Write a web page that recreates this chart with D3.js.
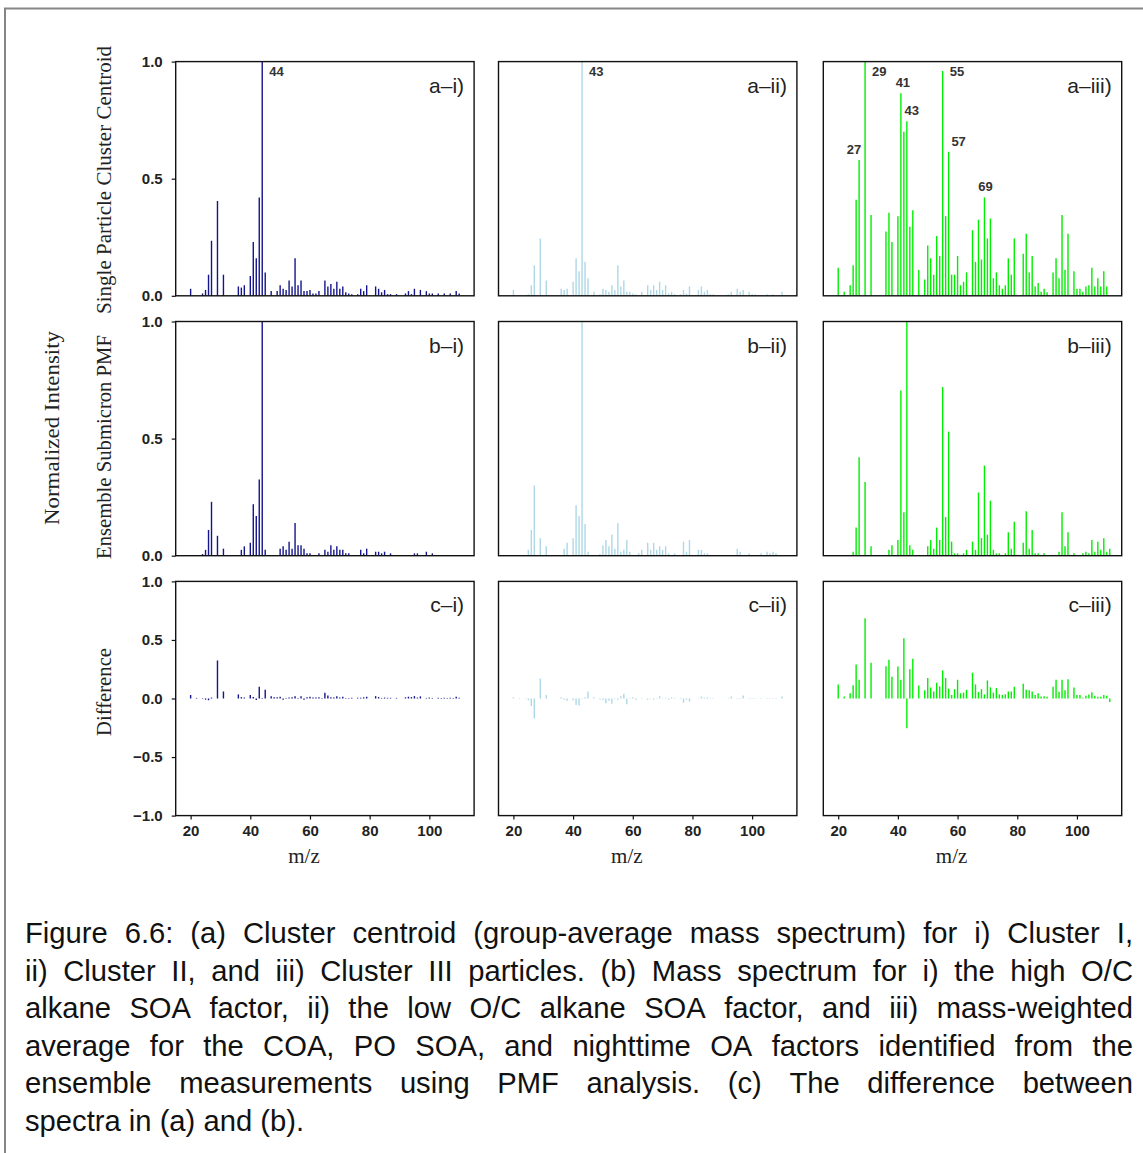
<!DOCTYPE html>
<html><head><meta charset="utf-8">
<script src="https://cdn.jsdelivr.net/npm/d3@7"></script>
<style>body{margin:0;background:#fff}svg{display:block}</style>
</head><body>
<svg id="chart" width="1143" height="1153"></svg>
<script>
// ---------------- data ----------------
const mzTicks = [20, 40, 60, 80, 100];
const intensityTicks = [0, 0.5, 1];
const differenceTicks = [-1, -0.5, 0, 0.5, 1];
const panelLabels = [["a–i)", "a–ii)", "a–iii)"], ["b–i)", "b–ii)", "b–iii)"], ["c–i)", "c–ii)", "c–iii)"]];
const rowTitles = ["Single Particle Cluster Centroid", "Ensemble Submicron PMF", "Difference"];
const sharedTitle = "Normalized Intensity";
const xTitle = "m/z";
const seriesColors = ["#14148c", "#add8e6", "#00ee00"];

// (a) cluster centroids [m/z, intensity]
const centroidClusterI = [[20,0.03],[24,0.01],[25,0.025],[26,0.09],[27,0.235],[29,0.405],[31,0.09],[36,0.04],[37,0.035],[38,0.045],[40,0.085],[41,0.23],[42,0.16],[43,0.42],[44,1.0],[45,0.1],[47,0.02],[49,0.02],[50,0.045],[51,0.03],[52,0.025],[53,0.065],[54,0.04],[55,0.16],[56,0.045],[57,0.065],[58,0.02],[59,0.02],[60,0.025],[61,0.01],[62,0.01],[63,0.02],[65,0.065],[66,0.04],[67,0.05],[68,0.03],[69,0.06],[70,0.03],[71,0.04],[72,0.015],[73,0.01],[74,0.007],[76,0.007],[77,0.03],[78,0.02],[79,0.045],[82,0.04],[83,0.03],[84,0.015],[85,0.025],[86,0.007],[87,0.007],[89,0.007],[92,0.01],[93,0.02],[94,0.007],[95,0.03],[97,0.025],[99,0.02],[100,0.01],[101,0.01],[103,0.01],[105,0.01],[107,0.01],[109,0.02],[110,0.01]];
const centroidClusterII = [[20,0.025],[25,0.007],[26,0.045],[27,0.13],[29,0.245],[31,0.065],[36,0.03],[37,0.025],[38,0.03],[40,0.06],[41,0.16],[42,0.105],[43,1.0],[44,0.145],[45,0.075],[47,0.017],[49,0.007],[50,0.03],[51,0.025],[52,0.017],[53,0.045],[54,0.025],[55,0.13],[56,0.04],[57,0.065],[58,0.017],[59,0.017],[60,0.01],[61,0.007],[63,0.017],[65,0.045],[66,0.025],[67,0.045],[68,0.025],[69,0.06],[70,0.025],[71,0.045],[72,0.01],[73,0.017],[74,0.007],[76,0.007],[77,0.025],[78,0.01],[79,0.04],[82,0.025],[83,0.04],[84,0.017],[85,0.025],[86,0.007],[87,0.007],[92,0.007],[93,0.017],[95,0.03],[96,0.017],[97,0.025],[99,0.017],[100,0.007],[101,0.007],[105,0.007],[107,0.007],[110,0.017]];
const centroidClusterIII = [[20,0.12],[22,0.017],[24,0.045],[25,0.13],[26,0.41],[27,0.58],[29,1.0],[31,0.345],[36,0.275],[37,0.355],[38,0.23],[40,0.34],[41,0.865],[42,0.70],[43,0.745],[44,0.295],[45,0.365],[47,0.11],[49,0.07],[50,0.215],[51,0.16],[52,0.09],[53,0.255],[54,0.17],[55,0.96],[56,0.34],[57,0.615],[58,0.09],[59,0.09],[60,0.17],[61,0.045],[62,0.06],[63,0.1],[65,0.28],[66,0.145],[67,0.325],[68,0.155],[69,0.42],[70,0.245],[71,0.33],[72,0.075],[73,0.1],[74,0.045],[75,0.03],[76,0.045],[77,0.16],[78,0.09],[79,0.245],[82,0.18],[83,0.265],[84,0.1],[85,0.17],[86,0.04],[87,0.055],[88,0.017],[89,0.03],[90,0.015],[92,0.1],[93,0.16],[94,0.075],[95,0.345],[96,0.11],[97,0.265],[99,0.105],[100,0.03],[101,0.03],[102,0.017],[103,0.04],[104,0.045],[105,0.12],[106,0.04],[107,0.075],[108,0.04],[109,0.105],[110,0.04]];

// (b) ensemble PMF spectra
const pmfHighOC = [[24,0.007],[25,0.025],[26,0.11],[27,0.23],[29,0.085],[31,0.03],[37,0.025],[38,0.04],[40,0.055],[41,0.22],[42,0.17],[43,0.325],[44,1.0],[45,0.025],[50,0.03],[51,0.04],[52,0.025],[53,0.06],[54,0.03],[55,0.14],[56,0.045],[57,0.045],[58,0.03],[59,0.01],[60,0.01],[63,0.01],[65,0.025],[66,0.017],[67,0.045],[68,0.025],[69,0.04],[70,0.025],[71,0.025],[72,0.01],[73,0.01],[77,0.025],[78,0.01],[79,0.03],[82,0.017],[83,0.017],[84,0.01],[85,0.017],[87,0.01],[95,0.01],[96,0.01],[99,0.017],[101,0.01]];
const pmfLowOC = [[25,0.025],[26,0.11],[27,0.30],[29,0.075],[31,0.04],[37,0.03],[38,0.055],[40,0.075],[41,0.215],[42,0.17],[43,1.0],[44,0.135],[45,0.017],[49,0.007],[50,0.045],[51,0.067],[52,0.04],[53,0.09],[54,0.03],[55,0.14],[56,0.017],[57,0.025],[58,0.067],[59,0.017],[62,0.01],[63,0.025],[65,0.055],[66,0.025],[67,0.055],[68,0.025],[69,0.04],[70,0.025],[71,0.04],[72,0.01],[74,0.01],[77,0.06],[78,0.017],[79,0.067],[82,0.025],[83,0.025],[84,0.01],[85,0.01],[95,0.03],[96,0.017],[99,0.01],[103,0.01],[105,0.017],[106,0.01],[107,0.017],[108,0.01]];
const pmfWeighted = [[25,0.017],[26,0.12],[27,0.42],[29,0.315],[31,0.04],[37,0.025],[38,0.045],[40,0.067],[41,0.705],[42,0.185],[43,1.0],[44,0.045],[45,0.025],[50,0.04],[51,0.067],[52,0.03],[53,0.12],[54,0.067],[55,0.72],[56,0.165],[57,0.53],[58,0.06],[59,0.01],[60,0.01],[62,0.01],[63,0.025],[65,0.06],[66,0.025],[67,0.27],[68,0.075],[69,0.385],[70,0.09],[71,0.235],[72,0.025],[73,0.01],[74,0.01],[76,0.01],[77,0.1],[78,0.03],[79,0.145],[82,0.055],[83,0.19],[84,0.03],[85,0.11],[86,0.01],[87,0.01],[89,0.01],[94,0.017],[95,0.185],[96,0.04],[97,0.1],[99,0.01],[102,0.01],[103,0.017],[104,0.01],[105,0.067],[106,0.017],[107,0.06],[108,0.025],[109,0.075],[110,0.017],[111,0.03]];

// (c) differences (a) - (b)
const diffI = [[20,0.03],[22,0.005],[24,0.004],[25,-0.01],[26,-0.015],[27,0.008],[29,0.325],[31,0.06],[36,0.035],[37,0.012],[38,0.008],[40,0.03],[41,0.012],[42,-0.012],[43,0.1],[44,0.004],[45,0.075],[47,0.02],[48,0.01],[49,0.01],[50,0.015],[51,-0.01],[52,0.005],[53,0.008],[54,0.01],[55,0.02],[56,0.005],[57,0.02],[58,-0.01],[59,0.01],[60,0.015],[61,0.008],[62,0.008],[63,0.01],[64,0.005],[65,0.05],[66,0.025],[67,0.01],[68,0.008],[69,0.02],[70,0.008],[71,0.015],[72,0.005],[73,0.005],[74,0.006],[76,0.006],[77,0.006],[78,0.01],[79,0.015],[82,0.02],[83,0.012],[84,0.005],[85,0.008],[86,0.006],[87,0.006],[89,0.005],[92,0.01],[93,0.015],[94,0.012],[95,0.02],[96,0.008],[97,0.018],[99,0.005],[100,0.008],[101,0.005],[103,0.006],[104,0.005],[105,0.006],[106,0.005],[107,0.006],[108,0.004],[109,0.015],[110,0.006]];
const diffII = [[20,0.01],[22,0.004],[24,0.004],[25,-0.015],[26,-0.065],[27,-0.17],[29,0.17],[31,0.03],[36,0.01],[37,-0.01],[38,-0.02],[40,-0.015],[41,-0.055],[42,-0.06],[43,0.004],[44,0.01],[45,0.06],[47,0.01],[49,-0.008],[50,-0.012],[51,-0.04],[52,-0.02],[53,-0.045],[54,-0.005],[55,-0.01],[56,0.02],[57,0.04],[58,-0.05],[59,0.005],[60,0.01],[61,-0.01],[63,-0.004],[65,-0.01],[66,0.004],[67,-0.01],[68,0.004],[69,0.02],[70,0.004],[71,0.005],[72,-0.01],[73,0.01],[74,0.005],[76,0.005],[77,-0.035],[78,-0.01],[79,-0.027],[82,0.004],[83,0.017],[84,0.007],[85,0.01],[86,0.005],[87,0.005],[92,0.005],[93,0.017],[95,0.004],[96,0.005],[97,0.025],[99,0.005],[100,0.005],[101,0.005],[103,-0.005],[105,0.005],[106,0.005],[107,-0.005],[108,0.005],[110,0.017]];
const diffIII = [[20,0.12],[22,0.017],[24,0.045],[25,0.113],[26,0.29],[27,0.16],[29,0.685],[31,0.305],[36,0.275],[37,0.33],[38,0.185],[40,0.273],[41,0.16],[42,0.515],[43,-0.255],[44,0.25],[45,0.34],[47,0.11],[49,0.07],[50,0.175],[51,0.093],[52,0.06],[53,0.135],[54,0.103],[55,0.24],[56,0.175],[57,0.085],[58,0.03],[59,0.08],[60,0.16],[61,0.045],[62,0.05],[63,0.075],[65,0.22],[66,0.12],[67,0.055],[68,0.08],[69,0.035],[70,0.155],[71,0.095],[72,0.05],[73,0.09],[74,0.035],[75,0.03],[76,0.035],[77,0.06],[78,0.06],[79,0.10],[82,0.125],[83,0.075],[84,0.07],[85,0.06],[86,0.03],[87,0.045],[88,0.017],[89,0.02],[90,0.015],[92,0.1],[93,0.16],[94,0.058],[95,0.16],[96,0.07],[97,0.165],[99,0.095],[100,0.03],[101,0.03],[102,0.007],[103,0.023],[104,0.035],[105,0.053],[106,0.023],[107,0.015],[108,0.015],[109,0.03],[110,0.023],[111,-0.03]];

// peak annotations for row (a)
const peakLabelsI = [44];
const peakLabelsII = [43];
const peakLabelsIII = [27, 29, 41, 43, 55, 57, 69];

const captionLines = [
  "Figure 6.6: (a) Cluster centroid (group-average mass spectrum) for i) Cluster I,",
  "ii) Cluster II, and iii) Cluster III particles. (b) Mass spectrum for i) the high O/C",
  "alkane SOA factor, ii) the low O/C alkane SOA factor, and iii) mass-weighted",
  "average for the COA, PO SOA, and nighttime OA factors identified from the",
  "ensemble measurements using PMF analysis. (c) The difference between",
  "spectra in (a) and (b)."
];

// ---------------- layout ----------------
const grid = [
  [centroidClusterI, centroidClusterII, centroidClusterIII],
  [pmfHighOC, pmfLowOC, pmfWeighted],
  [diffI, diffII, diffIII]
];
const peakLabels = [peakLabelsI, peakLabelsII, peakLabelsIII];
// horizontal nudges (px) for labels set above a bar in panel a-iii
const labelNudge = {27: -5, 41: 2, 43: 5, 57: 10, 69: 1};
const colX = [175.7, 498.5, 823.3];
const rowY = [61.6, 321.5, 581.4];
const panelW = 298.4, panelH = 234.2;
const svg = d3.select("#chart");

// figure border
svg.append("path").attr("d", "M5,1153 V8.5 H1143")
  .attr("fill", "none").attr("stroke", "#858585").attr("stroke-width", 2);

const sansFont = "'Liberation Sans', Arial, sans-serif";
const serifFont = "'Liberation Serif', 'Times New Roman', serif";

grid.forEach((row, r) => {
  row.forEach((series, c) => {
    const x = d3.scaleLinear().domain([15, 115]).range([0, panelW]);
    const y = d3.scaleLinear().domain(r === 2 ? [-1, 1] : [0, 1]).range([panelH, 0]);
    const g = svg.append("g").attr("transform", `translate(${colX[c]},${rowY[r]})`);

    g.selectAll("line.bar").data(series).join("line")
      .attr("class", "bar")
      .attr("x1", d => x(d[0])).attr("x2", d => x(d[0]))
      .attr("y1", y(0)).attr("y2", d => y(d[1]))
      .attr("stroke", seriesColors[c]).attr("stroke-width", 1.4);

    // frame
    g.append("rect").attr("width", panelW).attr("height", panelH)
      .attr("fill", "none").attr("stroke", "#111").attr("stroke-width", 1.4);

    // panel tag
    g.append("text").attr("x", panelW - 10).attr("y", 31)
      .attr("text-anchor", "end").attr("font-family", sansFont)
      .attr("font-size", 21).attr("fill", "#222").text(panelLabels[r][c]);

    // peak labels
    if (r === 0) {
      peakLabels[c].forEach(m => {
        const v = series.find(d => d[0] === m)[1];
        const right = v >= 0.95;
        const nudge = (c === 2 && labelNudge[m] !== undefined) ? labelNudge[m] : 3;
        g.append("text")
          .attr("x", right ? x(m) + 7 : x(m) + nudge)
          .attr("y", right ? 14 : y(v) - 6)
          .attr("text-anchor", right ? "start" : "middle")
          .attr("font-family", sansFont).attr("font-weight", "bold")
          .attr("font-size", 13).attr("fill", "#333").text(m);
      });
    }

    // y axis on first column
    if (c === 0) {
      const ya = g.append("g").call(
        d3.axisLeft(y).tickValues(r === 2 ? differenceTicks : intensityTicks)
          .tickFormat(d3.format(".1f")).tickSize(4).tickPadding(9));
      ya.select(".domain").remove();
      ya.selectAll("line").attr("stroke", "#111").attr("stroke-width", 1.2);
      ya.selectAll("text").attr("font-family", sansFont).attr("font-weight", "bold")
        .attr("font-size", 15).attr("fill", "#222");
    }
    // x axis on bottom row
    if (r === 2) {
      const xa = g.append("g").attr("transform", `translate(0,${panelH})`).call(
        d3.axisBottom(x).tickValues(mzTicks).tickSize(4).tickPadding(6));
      xa.select(".domain").remove();
      xa.selectAll("line").attr("stroke", "#111").attr("stroke-width", 1.2);
      xa.selectAll("text").attr("font-family", sansFont).attr("font-weight", "bold")
        .attr("font-size", 15).attr("fill", "#222");
      g.append("text").attr("x", x(58)).attr("y", panelH + 47)
        .attr("text-anchor", "middle").attr("font-family", serifFont)
        .attr("font-size", 21).attr("fill", "#222").text(xTitle);
    }
  });
});

// row titles (rotated)
const rowTitleCenters = [180, 447, 692];
const rowTitleLengths = [268, 224, 88];
rowTitles.forEach((t, i) => {
  svg.append("text")
    .attr("transform", `translate(111,${rowTitleCenters[i]}) rotate(-90)`)
    .attr("text-anchor", "middle").attr("font-family", serifFont)
    .attr("font-size", 20).attr("fill", "#222")
    .attr("textLength", rowTitleLengths[i]).attr("lengthAdjust", "spacingAndGlyphs")
    .text(t);
});
svg.append("text")
  .attr("transform", `translate(59,428) rotate(-90)`)
  .attr("text-anchor", "middle").attr("font-family", serifFont)
  .attr("font-size", 21).attr("fill", "#222")
  .attr("textLength", 194).attr("lengthAdjust", "spacingAndGlyphs")
  .text(sharedTitle);

// caption, justified
const capLeft = 25, capWidth = 1108, capBase = 943, capLH = 37.6, capSize = 29.2;
const meas = svg.append("text").attr("font-family", sansFont).attr("font-size", capSize);
captionLines.forEach((line, i) => {
  const t = svg.append("text").attr("font-family", sansFont).attr("font-size", capSize)
    .attr("fill", "#111").attr("y", capBase + i * capLH);
  if (i === captionLines.length - 1) {
    t.attr("x", capLeft).text(line);
    return;
  }
  const words = line.split(" ");
  const widths = words.map(w => { meas.text(w); return meas.node().getComputedTextLength(); });
  const gap = (capWidth - d3.sum(widths)) / (words.length - 1);
  let xPos = capLeft;
  words.forEach((w, k) => {
    t.append("tspan").attr("x", xPos).text(w);
    xPos += widths[k] + gap;
  });
});
meas.remove();
</script>
</body></html>
